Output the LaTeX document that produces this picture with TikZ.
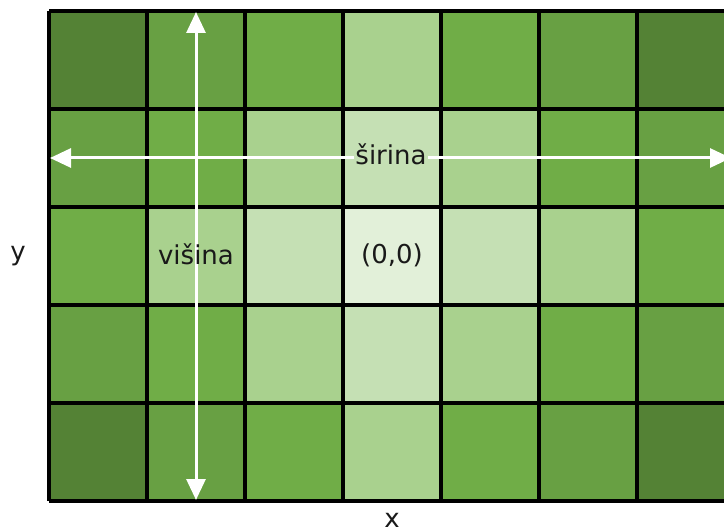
\documentclass[tikz,border=0pt]{standalone}
\usepackage{fontspec}
\setmainfont{DejaVu Sans}
\usetikzlibrary{arrows.meta}
% shades of green, darkest (corners) to palest (centre)
\definecolor{g0}{HTML}{548235}
\definecolor{g1}{HTML}{68A043}
\definecolor{g2}{HTML}{70AD47}
\definecolor{g3}{HTML}{A9D18E}
\definecolor{g4}{HTML}{C5E0B4}
\definecolor{g5}{HTML}{E2F0D9}
\tikzset{
  gridline/.style={line width=3.2pt, line cap=square, black},
  axisarrow/.style={white, line width=3pt, {Triangle[width=19pt,length=21pt]}-{Triangle[width=19pt,length=21pt]}},
  lbl/.style={font=\fontsize{26}{30}\selectfont, inner sep=0pt, text=black!90},
}
\begin{document}
\begin{tikzpicture}[x=1pt,y=-1pt]
\useasboundingbox (0,0) rectangle (724,532);
\begin{scope}
  \clip (0,0) rectangle (724,532);
  % cells: 7 columns x 5 rows, lighter towards the middle
  \foreach \r in {0,...,4} {
    \foreach \c in {0,...,6} {
      \pgfmathtruncatemacro\lv{(3-abs(\c-3))+(2-abs(\r-2))}
      \fill[g\lv] (49+98*\c,11+98*\r) rectangle ++(98,98);
    }
  }
  % cell borders
  \foreach \c in {0,...,7} \draw[gridline] (49+98*\c,11) -- (49+98*\c,501);
  \foreach \r in {0,...,5} \draw[gridline] (49,11+98*\r) -- (735,11+98*\r);
  % axes
  \coordinate (vtop) at (196,12);
  \coordinate (vbot) at (196,500);
  \coordinate (hleft) at (50,158);
  \coordinate (hright) at (731,158);
  \draw[axisarrow] (vbot) -- (vtop);
  \draw[axisarrow] (hleft) -- (hright);
\end{scope}
% labels
\node[lbl, anchor=base, fill=g4, inner xsep=1pt, inner ysep=1pt] (sirina) at (391,165) {širina};
\node[lbl, anchor=base] (visina) at (196,265) {višina};
\node[lbl, anchor=base] (origin) at (392,264) {(0,0)};
\node[lbl, anchor=base] (ylab) at (18,261) {y};
\node[lbl, anchor=base] (xlab) at (392,527) {x};
\end{tikzpicture}
\end{document}
